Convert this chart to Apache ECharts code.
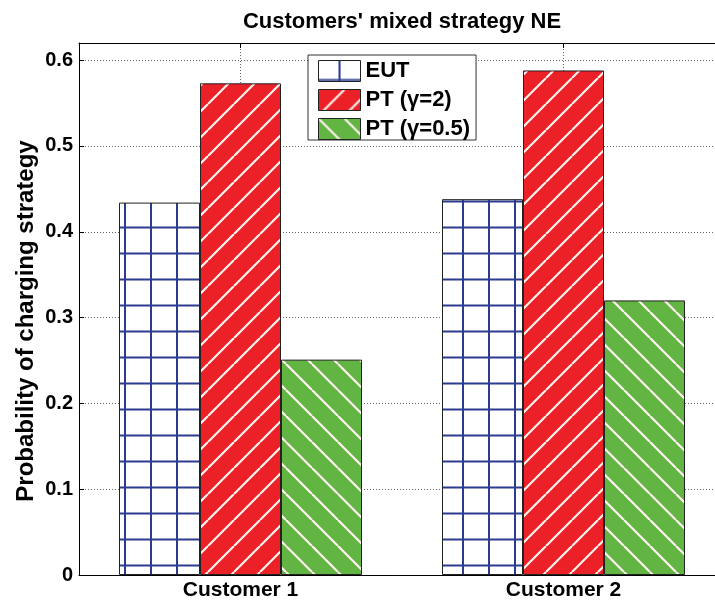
<!DOCTYPE html>
<html><head><meta charset="utf-8">
<script src="https://cdn.jsdelivr.net/npm/echarts@6/dist/echarts.min.js"></script>
<style>html,body{margin:0;padding:0;background:#fff}#c{width:715px;height:606px}</style>
</head><body><div id="c"></div>
<script>
// ---- data ----
const categories = ['Customer 1', 'Customer 2'];
const seriesNames = ['EUT', 'PT (γ=2)', 'PT (γ=0.5)'];
const eutValues = [0.434, 0.438];
const ptGamma2Values = [0.573, 0.588];
const ptGamma05Values = [0.251, 0.320];
const yMin = 0, yMax = 0.62, yStep = 0.1;
const titleText = "Customers' mixed strategy NE";
const yName = 'Probability of charging strategy';
// helper axis for grid lines at category centres (range 0.5 .. 2.5 in halves)
const halfSteps = ['0.5', '1', '1.5', '2', '2.5'];

// ---- hatch patterns ----
function makeTile(kind) {
  const s = 26;
  const c = document.createElement('canvas');
  c.width = s; c.height = s;
  const g = c.getContext('2d');
  if (kind === 'grid') {
    g.fillStyle = '#ffffff'; g.fillRect(0, 0, s, s);
    g.strokeStyle = '#2b3b8f'; g.lineWidth = 2;
    g.beginPath();
    g.moveTo(21, 0); g.lineTo(21, s);
    g.moveTo(0, 19.5); g.lineTo(s, 19.5);
    g.stroke();
  } else {
    g.fillStyle = kind === 'fwd' ? '#ec2027' : '#62b443';
    g.fillRect(0, 0, s, s);
    g.strokeStyle = '#fff3ef'; g.lineWidth = 2.2;
    g.beginPath();
    for (const o of [-s, 0, s]) {
      if (kind === 'fwd') { g.moveTo(o, s); g.lineTo(o + s, 0); }
      else { g.moveTo(o, 0); g.lineTo(o + s, s); }
    }
    g.stroke();
  }
  return { image: c, repeat: 'repeat' };
}
const fills = [makeTile('grid'), makeTile('fwd'), makeTile('back')];
const valueSets = [eutValues, ptGamma2Values, ptGamma05Values];

const font = 'Liberation Sans, Arial, Helvetica, sans-serif';
const dotted = { color: '#666', width: 1, type: [1, 2] };

const chart = echarts.init(document.getElementById('c'), null, { renderer: 'canvas' });
chart.setOption({
  animation: false,
  backgroundColor: '#ffffff',
  textStyle: { fontFamily: font },
  title: {
    text: titleText, left: 397, top: 6, textAlign: 'center',
    textStyle: { fontFamily: font, fontWeight: 'bold', fontSize: 22, color: '#000' }
  },
  grid: { left: 79, width: 646, top: 43, bottom: 31, containLabel: false, outerBoundsMode: 'none' },
  legend: {
    data: seriesNames, orient: 'vertical', left: 308, top: 55,
    itemWidth: 42, itemHeight: 21, itemGap: 7,
    padding: [5, 6, 0, 10],
    backgroundColor: '#fff', borderColor: '#333', borderWidth: 1,
    icon: 'rect',
    textStyle: { fontFamily: font, fontWeight: 'bold', fontSize: 22, color: '#000', lineHeight: 21 },
    itemStyle: { borderColor: '#222', borderWidth: 1 }
  },
  xAxis: [
    {
      type: 'category', data: categories, position: 'bottom', boundaryGap: true,
      axisLine: { show: true, lineStyle: { color: '#000', width: 1 } },
      axisTick: { show: false },
      axisLabel: { fontFamily: font, fontWeight: 'bold', fontSize: 21, color: '#000', margin: 5 },
      splitLine: { show: false }
    },
    {
      type: 'category', data: halfSteps, position: 'top', boundaryGap: false,
      axisLine: { show: true, lineStyle: { color: '#000', width: 1 } },
      axisTick: { show: true, inside: true, length: 5, interval: (i) => i === 1 || i === 3, lineStyle: { color: '#000' } },
      axisLabel: { show: false },
      splitLine: { show: true, interval: (i) => i === 1 || i === 3, lineStyle: dotted }
    }
  ],
  yAxis: {
    type: 'value', min: yMin, max: yMax, interval: yStep,
    name: yName, nameLocation: 'middle', nameGap: 41, nameMoveOverlap: false,
    nameTextStyle: { fontFamily: font, fontWeight: 'bold', fontSize: 24, color: '#000', padding: [0, 24, 0, 0] },
    axisLine: { show: true, lineStyle: { color: '#000', width: 1 } },
    axisTick: { show: true, inside: true, length: 5, lineStyle: { color: '#000' } },
    axisLabel: { fontFamily: font, fontWeight: 'bold', fontSize: 20, color: '#000', margin: 6, showMaxLabel: false },
    splitLine: { show: true, lineStyle: dotted }
  },
  series: seriesNames.map((name, i) => ({
    name, type: 'bar', data: valueSets[i], xAxisIndex: 0,
    barWidth: 81, barGap: '0%',
    itemStyle: { color: fills[i], borderColor: '#222', borderWidth: 1 },
    emphasis: { disabled: true }
  }))
});
</script>
</body></html>
